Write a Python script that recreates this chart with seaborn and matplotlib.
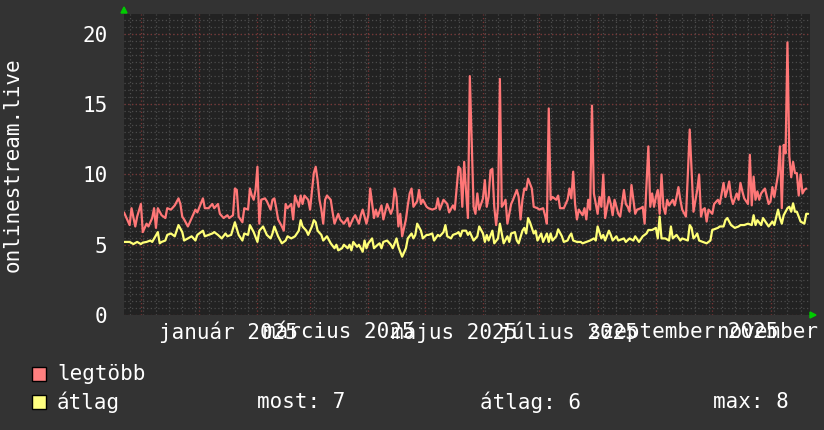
import numpy as np
import pandas as pd
import matplotlib
matplotlib.use("Agg")
import matplotlib.pyplot as plt
import matplotlib.transforms as mtransforms
from matplotlib.patches import Rectangle, Polygon
import seaborn as sns

# ---------------- data (day offsets from 2024-11-22) ----------------
start_date = "2024-11-22"
span_days = 365

legtobb_days = [
    0, 3, 4, 6, 7, 9, 10, 12, 13, 15,
    16, 17, 18, 20, 22, 23, 25, 27, 29, 30,
    31, 32, 34, 36, 38, 39, 42, 43, 45, 47,
    48, 50, 51, 53, 55, 56, 58, 59, 60, 61,
    63, 64, 66, 67, 68, 69, 70, 71, 72, 73,
    75, 76, 78, 79, 80, 81, 82, 84, 85, 86,
    87, 89, 90, 91, 93, 94, 95, 96, 98, 99,
    100, 101, 102, 103, 104, 105, 106, 107, 108, 110,
    111, 112, 114, 115, 117, 119, 120, 122, 123, 125,
    126, 127, 129, 130, 131, 133, 134, 135, 137, 138,
    140, 142, 143, 144, 145, 146, 147, 148, 150, 151,
    152, 153, 154, 156, 157, 158, 159, 161, 162, 164,
    166, 167, 168, 170, 172, 173, 175, 176, 178, 179,
    180, 181, 182, 183, 184, 186, 187, 188, 189, 191,
    192, 193, 194, 195, 196, 197, 198, 199, 200, 201,
    202, 203, 204, 206, 207, 209, 210, 211, 212, 213,
    214, 215, 217, 218, 220, 221, 223, 224, 225, 226,
    227, 228, 230, 231, 232, 233, 234, 236, 237, 238,
    239, 240, 241, 242, 244, 245, 246, 247, 248, 249,
    250, 252, 253, 254, 255, 256, 258, 259, 260, 261,
    263, 264, 266, 267, 268, 269, 270, 272, 273, 275,
    276, 277, 279, 280, 281, 282, 283, 284, 285, 286,
    287, 288, 289, 290, 292, 293, 294, 295, 296, 297,
    299, 300, 301, 302, 303, 305, 306, 307, 308, 309,
    310, 311, 313, 314, 316, 317, 318, 319, 320, 321,
    322, 323, 324, 326, 327, 328, 329, 330, 332, 333,
    334, 335, 336, 337, 338, 339, 341, 343, 344, 345,
    346, 348, 349, 350, 351, 352, 353, 354, 355, 356,
    357, 358, 359, 360, 361, 362, 363,
]
legtobb_vals = [
    7.3, 6.4, 7.6, 6.3, 7.0, 7.9, 5.9, 6.5, 6.3, 6.9,
    7.6, 6.2, 7.6, 7.1, 6.9, 7.6, 7.5, 7.8, 8.3, 7.9,
    7.0, 6.8, 6.3, 6.9, 7.5, 7.3, 8.3, 7.6, 7.6, 7.9,
    7.6, 7.9, 7.2, 6.9, 7.1, 6.9, 7.1, 9.0, 8.9, 7.0,
    6.6, 7.6, 7.5, 9.0, 8.5, 8.2, 8.9, 10.55, 6.5, 8.2,
    8.3, 8.1, 7.5, 8.2, 8.3, 7.6, 6.8, 6.3, 6.0, 7.9,
    7.6, 7.9, 6.8, 8.5, 7.7, 8.5, 7.9, 8.5, 8.2, 7.5,
    8.8, 10.1, 10.55, 9.6, 8.2, 7.5, 6.5, 8.2, 8.5, 8.2,
    7.3, 6.5, 7.2, 6.8, 6.5, 6.9, 6.3, 6.9, 7.1, 6.5,
    7.1, 7.5, 6.5, 7.1, 9.0, 6.9, 7.5, 7.0, 7.8, 6.8,
    7.9, 7.2, 7.6, 9.0, 8.4, 6.3, 7.2, 5.6, 6.8, 7.8,
    8.65, 9.0, 7.7, 8.1, 8.9, 7.9, 8.2, 7.7, 7.6, 7.5,
    7.6, 8.3, 7.5, 8.2, 7.9, 7.3, 7.8, 7.5, 10.55, 10.4,
    7.7, 10.9, 8.8, 6.9, 17.0, 7.7, 7.2, 8.65, 7.5, 8.3,
    9.6, 7.7, 8.4, 10.3, 10.4, 7.7, 6.4, 7.7, 16.8, 7.7,
    7.9, 8.2, 6.5, 7.9, 8.2, 8.9, 8.4, 6.8, 8.2, 9.0,
    8.9, 9.7, 9.0, 7.7, 7.6, 7.5, 7.6, 7.1, 6.5, 14.7,
    8.2, 8.4, 8.2, 8.5, 7.6, 7.6, 7.6, 8.2, 9.0, 8.3,
    10.2, 7.9, 6.8, 7.5, 7.1, 7.6, 6.8, 8.2, 7.5, 14.9,
    8.65, 7.2, 8.4, 7.7, 10.0, 6.9, 8.4, 7.9, 7.1, 8.2,
    7.2, 7.0, 8.9, 7.9, 7.7, 7.35, 9.25, 7.2, 7.5, 7.6,
    7.7, 6.5, 12.0, 7.7, 8.65, 7.7, 8.4, 8.9, 7.2, 10.0,
    7.7, 7.2, 8.2, 7.8, 8.2, 7.8, 8.4, 9.1, 8.2, 7.5,
    7.0, 10.0, 13.2, 10.3, 7.35, 8.9, 10.0, 7.0, 7.5, 7.6,
    6.65, 7.5, 7.2, 7.9, 8.2, 7.9, 8.65, 9.4, 8.4, 8.9,
    9.5, 8.4, 7.9, 8.65, 8.2, 9.4, 8.8, 8.3, 7.9, 11.4,
    7.8, 9.85, 8.2, 8.8, 8.2, 8.65, 9.0, 7.9, 8.1, 9.1,
    8.4, 10.0, 12.0, 7.6, 12.1, 11.5, 19.4, 11.3, 9.8, 10.9,
    10.1, 10.1, 8.5, 10.0, 8.65, 8.9, 9.0,
]

atlag_days = [
    0, 3, 5, 7, 9, 10, 12, 14, 15, 18,
    19, 20, 22, 23, 25, 27, 29, 31, 32, 34,
    36, 38, 39, 42, 43, 45, 47, 48, 50, 52,
    54, 55, 57, 59, 61, 63, 64, 66, 67, 69,
    71, 72, 74, 76, 78, 79, 80, 82, 84, 86,
    87, 89, 91, 93, 94, 95, 97, 98, 100, 101,
    102, 103, 105, 106, 107, 108, 110, 112, 113, 114,
    116, 117, 119, 120, 121, 122, 124, 125, 127, 128,
    129, 130, 132, 133, 135, 136, 137, 138, 140, 142,
    143, 145, 146, 147, 148, 150, 151, 153, 154, 155,
    156, 158, 159, 161, 162, 164, 165, 167, 168, 170,
    171, 172, 174, 175, 177, 178, 179, 180, 182, 183,
    184, 186, 188, 189, 191, 192, 193, 194, 196, 197,
    199, 200, 201, 202, 204, 205, 206, 208, 209, 210,
    212, 213, 214, 215, 216, 218, 219, 220, 222, 223,
    225, 226, 227, 228, 230, 231, 233, 234, 236, 237,
    238, 239, 241, 243, 244, 246, 248, 250, 251, 252,
    254, 255, 256, 258, 259, 260, 262, 263, 266, 267,
    269, 271, 272, 274, 276, 278, 279, 281, 283, 284,
    285, 286, 288, 290, 291, 292, 294, 296, 297, 300,
    301, 302, 303, 304, 305, 306, 308, 310, 312, 313,
    316, 317, 319, 320, 321, 323, 325, 327, 328, 330,
    332, 334, 335, 336, 337, 339, 340, 342, 343, 345,
    346, 348, 349, 350, 351, 353, 354, 355, 356, 357,
    358, 359, 360, 362, 363, 364,
]
atlag_vals = [
    5.2, 5.2, 5.05, 5.2, 5.05, 5.15, 5.2, 5.3, 5.2, 5.9,
    5.1, 5.2, 5.3, 5.7, 5.8, 5.6, 6.4, 5.9, 5.3, 5.45,
    5.6, 5.3, 5.7, 6.0, 5.6, 5.7, 5.8, 5.9, 5.7, 5.45,
    5.8, 5.6, 5.7, 6.6, 5.7, 5.3, 5.8, 5.7, 6.4, 5.9,
    5.2, 6.0, 6.3, 5.7, 5.45, 5.8, 6.3, 5.6, 5.1, 5.3,
    5.6, 5.45, 5.6, 6.0, 6.75, 6.3, 6.0, 5.7, 6.3, 6.75,
    6.6, 6.0, 5.7, 5.3, 5.45, 5.6, 5.1, 4.75, 5.0, 4.6,
    4.75, 5.0, 4.75, 5.0, 4.6, 5.2, 4.85, 5.0, 4.5, 5.3,
    4.75, 5.1, 5.45, 4.75, 5.0, 5.1, 4.75, 5.2, 5.3, 5.0,
    4.75, 5.45, 4.85, 4.5, 4.15, 4.75, 5.45, 5.8, 5.45, 5.7,
    6.5, 6.0, 5.45, 5.7, 5.7, 5.8, 5.3, 5.7, 5.6, 5.9,
    6.4, 5.6, 5.45, 5.7, 5.8, 5.9, 5.6, 6.0, 6.0, 5.7,
    5.9, 5.3, 5.6, 6.3, 5.8, 5.2, 5.7, 5.3, 6.0, 5.1,
    5.45, 6.5, 5.8, 5.1, 5.6, 5.2, 5.8, 5.9, 5.3, 5.1,
    6.0, 6.2, 5.8, 6.9, 6.6, 5.8, 6.0, 5.3, 5.8, 5.2,
    5.8, 5.2, 5.8, 5.3, 5.6, 6.1, 5.6, 5.2, 5.3, 5.6,
    5.8, 5.3, 5.2, 5.2, 5.1, 5.2, 5.3, 5.45, 5.3, 6.3,
    5.45, 5.7, 5.3, 6.0, 5.7, 5.3, 5.6, 5.3, 5.45, 5.2,
    5.45, 5.3, 5.6, 5.2, 5.6, 5.8, 6.05, 6.05, 6.2, 5.45,
    7.0, 5.45, 5.45, 5.3, 6.3, 5.45, 5.7, 5.3, 5.45, 5.3,
    6.4, 6.2, 5.45, 5.6, 5.8, 5.3, 5.2, 5.1, 5.3, 6.05,
    6.2, 6.3, 6.3, 6.75, 6.9, 6.4, 6.2, 6.3, 6.4, 6.4,
    6.5, 6.4, 7.1, 6.4, 6.75, 6.4, 6.9, 6.5, 6.3, 6.65,
    6.4, 7.5, 6.9, 6.5, 7.1, 7.6, 7.7, 7.35, 7.95, 7.35,
    7.35, 7.0, 6.65, 6.5, 7.2, 7.2,
]

y_ticks = [0, 5, 10, 15, 20]
month_names = ["január", "március", "május", "július", "szeptember", "november"]
label_year = "2025"
series_names = ["legtöbb", "átlag"]
stat_texts = ["most: 7", "átlag: 6", "max: 8"]

# ---------------- style ----------------
sns.set_theme(style="dark")
plt.rcParams["font.family"] = ["DejaVu Sans Mono", "DejaVu Sans"]

BG = "#333333"
PLOT_BG = "#222222"
RED = "#ff7777"
YEL = "#ffff77"
FS = 15

W, H = 824, 430
fig = plt.figure(figsize=(W / 100, H / 100), dpi=100, facecolor=BG)
ax = fig.add_axes([124 / W, 115 / H, 686 / W, 301 / H])
ax.set_facecolor(PLOT_BG)

# ---------------- grid ----------------
start = pd.Timestamp(start_date)
month_starts = pd.date_range("2024-12-01", "2025-12-01", freq="MS")
month_pos = [(d - start).days for d in month_starts]
mondays = pd.date_range(start, start + pd.Timedelta(days=span_days), freq="W-MON")
week_pos = [(d - start).days for d in mondays]

for w in week_pos:
    ax.axvline(w, color="#4c4c4c", lw=0.9, ls=(0, (1, 2)), zorder=1)
for v in np.arange(0.5, 21.5, 0.5):
    ax.axhline(v, color="#4c4c4c", lw=0.9, ls=(0, (1, 2)), zorder=1)
for m in month_pos:
    ax.axvline(m, color="#7a3434", lw=0.9, ls=(0, (1, 2)), zorder=1.5)
for v in y_ticks:
    ax.axhline(v, color="#7a3434", lw=0.9, ls=(0, (1, 2)), zorder=1.5)

# ---------------- series ----------------
df_max = pd.DataFrame({"nap": legtobb_days, "ertek": legtobb_vals})
df_avg = pd.DataFrame({"nap": atlag_days, "ertek": atlag_vals})
sns.lineplot(data=df_max, x="nap", y="ertek", color=RED, lw=1.6, ax=ax,
             legend=False, zorder=3, errorbar=None)
sns.lineplot(data=df_avg, x="nap", y="ertek", color=YEL, lw=1.6, ax=ax,
             legend=False, zorder=4, errorbar=None)

ax.set_xlim(0, span_days)
ax.set_ylim(0, 21.42)
ax.set_xlabel("")
ax.set_ylabel("")
for s in ax.spines.values():
    s.set_visible(False)

ax.set_yticks(y_ticks)
ax.set_yticklabels([str(t) for t in y_ticks], fontsize=FS, color="white")
ax.tick_params(axis="y", length=0, pad=12)
ax.set_xticks([])

# month labels centred on each labelled month
trans = mtransforms.blended_transform_factory(ax.transData, ax.transAxes)
labelled = [1, 3, 5, 7, 9, 11]
for name, mi in zip(month_names, labelled):
    mid = (month_pos[mi] + month_pos[mi + 1]) / 2 if mi + 1 < len(month_pos) else month_pos[mi] + 15
    ax.text(mid, -17 / 301, f"{name} {label_year}", transform=trans,
            ha="center", va="center", fontsize=FS, color="white", clip_on=False)

# axis arrows
fig.add_artist(Polygon([[121 / W, 1 - 13 / H], [127 / W, 1 - 13 / H], [124 / W, 1 - 7 / H]],
                       closed=True, transform=fig.transFigure, color="#00cc00"))
fig.add_artist(Polygon([[810 / W, 1 - 312 / H], [810 / W, 1 - 318 / H], [816 / W, 1 - 315 / H]],
                       closed=True, transform=fig.transFigure, color="#00cc00"))

# y label
fig.text(13 / W, 1 - 165 / H, "onlinestream.live", rotation=90, ha="center",
         va="center", fontsize=FS, color="white")

# ---------------- legend ----------------
for i, (name, col) in enumerate(zip(series_names, ["#ff8080", "#ffff80"])):
    yc = 374 + 28 * i
    fig.add_artist(Rectangle((32 / W, 1 - (yc + 7) / H), 14 / W, 14 / H,
                             transform=fig.transFigure, facecolor=col,
                             edgecolor="black", lw=1))
    fig.text(57 / W, 1 - yc / H, name, ha="left", va="center", fontsize=FS, color="white")

for txt, xs in zip(stat_texts, [257, 480, 713]):
    fig.text(xs / W, 1 - 402 / H, txt, ha="left", va="center", fontsize=FS, color="white")

fig.savefig("out.png", dpi=100, facecolor=BG)
